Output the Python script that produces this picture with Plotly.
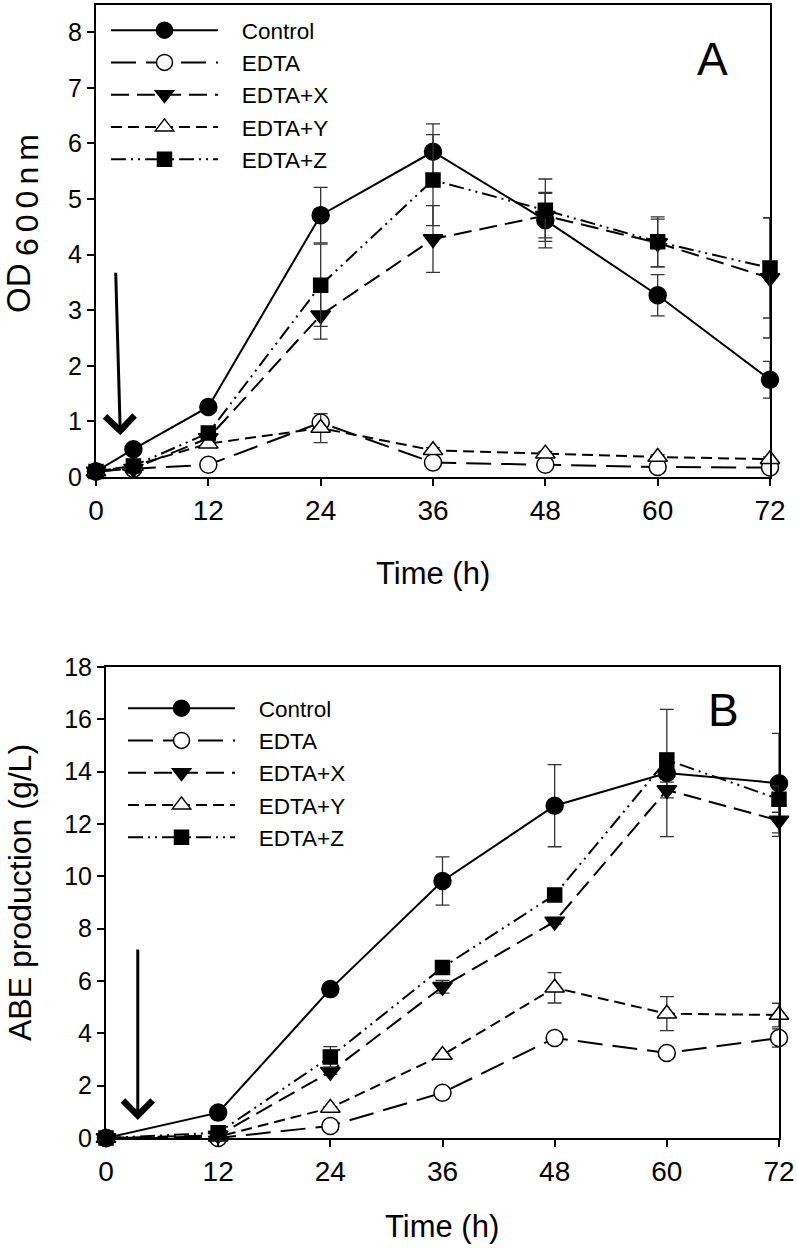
import plotly.graph_objects as go

# ---------------- data ----------------
series_names = ["Control", "EDTA", "EDTA+X", "EDTA+Y", "EDTA+Z"]

# Panel A: OD600nm
time_a = [0, 4, 12, 24, 36, 48, 60, 72]
od_control = [0.10, 0.50, 1.26, 4.71, 5.85, 4.62, 3.27, 1.75]
od_control_err = [0.02, 0.05, 0.08, 0.50, 0.50, 0.50, 0.37, 0.33]
od_edta = [0.10, 0.15, 0.22, 0.98, 0.26, 0.22, 0.18, 0.17]
od_edta_err = [0.02, 0.02, 0.03, 0.05, 0.03, 0.03, 0.03, 0.03]
od_x = [0.10, 0.15, 0.70, 2.91, 4.28, 4.70, 4.21, 3.58]
od_x_err = [0.02, 0.03, 0.05, 0.43, 0.60, 0.40, 0.43, 1.08]
od_y = [0.10, 0.20, 0.60, 0.88, 0.48, 0.42, 0.36, 0.32]
od_y_err = [0.02, 0.03, 0.04, 0.26, 0.05, 0.04, 0.04, 0.04]
od_z = [0.10, 0.20, 0.79, 3.45, 5.34, 4.80, 4.23, 3.76]
od_z_err = [0.02, 0.03, 0.05, 0.74, 0.82, 0.56, 0.45, 0.90]

# Panel B: ABE production (g/L)
time_b = [0, 12, 24, 36, 48, 60, 72]
abe_control = [0.0, 0.97, 5.69, 9.82, 12.70, 13.95, 13.56]
abe_control_err = [0.0, 0.05, 0.10, 0.92, 1.57, 2.43, 1.90]
abe_edta = [0.0, 0.0, 0.46, 1.73, 3.82, 3.25, 3.82]
abe_edta_err = [0.0, 0.0, 0.05, 0.05, 0.08, 0.08, 0.35]
abe_x = [0.0, 0.10, 2.53, 5.78, 8.27, 13.30, 12.13]
abe_x_err = [0.0, 0.02, 0.10, 0.24, 0.10, 0.30, 0.60]
abe_y = [0.0, 0.05, 1.15, 3.17, 5.74, 4.75, 4.70]
abe_y_err = [0.0, 0.02, 0.05, 0.05, 0.58, 0.65, 0.45]
abe_z = [0.0, 0.20, 3.10, 6.52, 9.29, 14.45, 12.95]
abe_z_err = [0.0, 0.02, 0.39, 0.10, 0.10, 0.25, 0.50]

xticks = [0, 12, 24, 36, 48, 60, 72]

# ---------------- styles ----------------
FONT = "Liberation Sans, Arial, sans-serif"
styles = {
    "Control": dict(symbol="circle", fill="black", dash="solid"),
    "EDTA": dict(symbol="circle", fill="white", dash="25px,10px"),
    "EDTA+X": dict(symbol="triangle-down", fill="black", dash="18px,8px"),
    "EDTA+Y": dict(symbol="triangle-up", fill="white", dash="11px,6px"),
    "EDTA+Z": dict(symbol="square", fill="black", dash="15px,5px,2px,5px,2px,5px"),
}

fig = go.Figure()

def add_series(name, xs, ys, errs, xa, ya, legend):
    st = styles[name]
    fig.add_trace(go.Scatter(
        x=xs, y=ys, mode="lines+markers",
        name="\u00a0\u00a0\u00a0" + name,
        xaxis=xa, yaxis=ya, legend=legend,
        cliponaxis=False,
        line=dict(color="black", width=2, dash=st["dash"]),
        marker=dict(symbol=st["symbol"], size=17 if st["symbol"] != "square" else 14,
                    color=st["fill"], line=dict(color="black", width=1.5)),
        error_y=dict(type="data", array=errs, visible=True, color="#333333",
                     thickness=1.3, width=7),
    ))

a_data = [(od_control, od_control_err), (od_edta, od_edta_err), (od_x, od_x_err),
          (od_y, od_y_err), (od_z, od_z_err)]
b_data = [(abe_control, abe_control_err), (abe_edta, abe_edta_err), (abe_x, abe_x_err),
          (abe_y, abe_y_err), (abe_z, abe_z_err)]

for name, (v, e) in zip(series_names, a_data):
    add_series(name, time_a, v, e, "x", "y", "legend")
for name, (v, e) in zip(series_names, b_data):
    add_series(name, time_b, v, e, "x2", "y2", "legend2")

# layout in window pixels, converted to paper fractions (page margin removed below)
W, H = 797, 1248
def px_x(p):
    return p / W
def px_y(p):
    return 1 - p / H

axis_common = dict(showline=True, linecolor="black", linewidth=2, mirror=True,
                   ticks="outside", ticklen=7, tickwidth=1.5, tickcolor="black",
                   showgrid=False, zeroline=False, automargin=False)

fig.update_layout(
    width=W, height=H,
    margin=dict(l=0, r=0, t=0, b=0, autoexpand=False),
    paper_bgcolor="white", plot_bgcolor="white",
    font=dict(family=FONT, color="black"),
    xaxis=dict(domain=[px_x(96), px_x(770)], range=[0, 72], tickvals=xticks,
               tickfont=dict(size=28), anchor="y", **axis_common),
    yaxis=dict(domain=[px_y(477), px_y(5)], range=[0, 8.49], tickvals=[0, 1, 2, 3, 4, 5, 6, 7, 8],
               tickfont=dict(size=25), anchor="x", **axis_common),
    xaxis2=dict(domain=[px_x(106), px_x(779)], range=[0, 72], tickvals=xticks,
                tickfont=dict(size=28), anchor="y2", **axis_common),
    yaxis2=dict(domain=[px_y(1138), px_y(667)], range=[0, 18], dtick=2,
                tickfont=dict(size=25), anchor="x2", **axis_common),
    legend=dict(x=px_x(106), y=px_y(9), xanchor="left", yanchor="top",
                bgcolor="rgba(0,0,0,0)", font=dict(size=22.5), itemwidth=107,
                traceorder="normal"),
    legend2=dict(x=px_x(123), y=px_y(687), xanchor="left", yanchor="top",
                 bgcolor="rgba(0,0,0,0)", font=dict(size=22.5), itemwidth=107,
                 traceorder="normal"),
    showlegend=True,
)

def label(text, x, y, size, angle=0):
    fig.add_annotation(text=text, x=px_x(x), y=px_y(y), xref="paper", yref="paper",
                       xanchor="center", yanchor="middle", textangle=angle,
                       showarrow=False, font=dict(size=size, family=FONT, color="black"))

# axis titles
label("Time (h)", 433, 573, 31)
label("Time (h)", 442, 1226, 31)
label("OD", 18, 288, 33, -90)
label("<span style='letter-spacing:6px'>600nm</span>", 27, 192, 32, -90)
label("ABE production (g/L)", 20, 893, 32, -90)

# panel letters
label("A", 712, 59, 46)
label("B", 723, 710, 46)

# arrows marking EDTA addition
fig.add_annotation(x=2.6, y=0.75, ax=2.1, ay=3.7, xref="x", yref="y", axref="x", ayref="y",
                   text="", showarrow=True, arrowhead=4, arrowwidth=3, arrowsize=1.9,
                   arrowcolor="black")
fig.add_annotation(x=3.4, y=0.69, ax=3.4, ay=7.26, xref="x2", yref="y2", axref="x2", ayref="y2",
                   text="", showarrow=True, arrowhead=4, arrowwidth=3, arrowsize=1.9,
                   arrowcolor="black")

fig.write_html("out.html", config={"displayModeBar": False},
               post_script="document.body.style.margin='0px';")
